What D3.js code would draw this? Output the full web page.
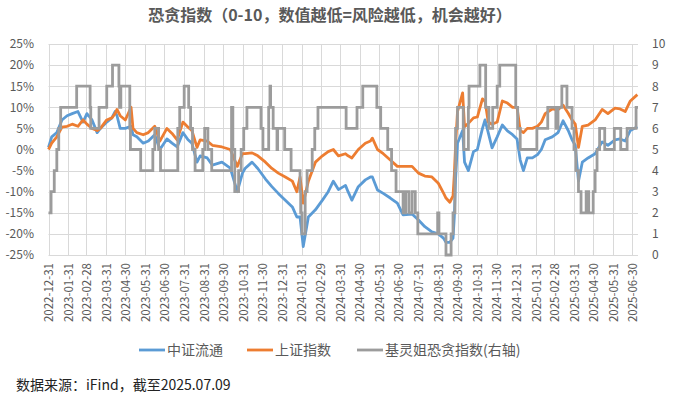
<!DOCTYPE html>
<meta charset="utf-8">
<body style="margin:0;background:#fff">
<svg width="679" height="399"></svg>
<script src="https://d3js.org/d3.v7.min.js"></script>
<script>
  var title = '恐贪指数（0-10，数值越低=风险越低，机会越好）'
  var source = '数据来源：iFind，截至2025.07.09'
  var seriesNames = ['中证流通', '上证指数', '基灵姐恐贪指数(右轴)']

  var monthEnds = ['2022-12-31', '2023-01-31', '2023-02-28', '2023-03-31', '2023-04-30', '2023-05-31',
    '2023-06-30', '2023-07-31', '2023-08-31', '2023-09-30', '2023-10-31', '2023-11-30', '2023-12-31',
    '2024-01-31', '2024-02-29', '2024-03-31', '2024-04-30', '2024-05-31', '2024-06-30', '2024-07-31',
    '2024-08-31', '2024-09-30', '2024-10-31', '2024-11-30', '2024-12-31', '2025-01-31', '2025-02-28',
    '2025-03-31', '2025-04-30', '2025-05-31', '2025-06-30']
  var leftTicks = [-25, -20, -15, -10, -5, 0, 5, 10, 15, 20, 25]
  var rightTicks = [0, 1, 2, 3, 4, 5, 6, 7, 8, 9, 10]

  // 中证流通 / 上证指数 cumulative change (%)
  var dates = ['2022-12-31', '2023-01-05', '2023-01-13', '2023-01-21', '2023-01-29', '2023-02-06', '2023-02-15',
    '2023-02-23', '2023-03-01', '2023-03-09', '2023-03-17', '2023-03-22', '2023-04-01', '2023-04-09',
    '2023-04-14', '2023-04-17', '2023-04-22', '2023-04-30', '2023-05-09', '2023-05-12', '2023-05-18',
    '2023-05-28', '2023-06-05', '2023-06-15', '2023-06-23', '2023-07-04', '2023-07-12', '2023-07-20',
    '2023-07-29', '2023-08-06', '2023-08-12', '2023-08-20', '2023-08-25', '2023-09-05', '2023-09-13',
    '2023-09-28', '2023-10-11', '2023-10-22', '2023-10-30', '2023-11-03', '2023-11-14', '2023-11-23',
    '2023-12-05', '2023-12-15', '2023-12-25', '2024-01-05', '2024-01-16', '2024-01-23', '2024-01-28',
    '2024-02-02', '2024-02-10', '2024-02-21', '2024-03-03', '2024-03-12', '2024-03-20', '2024-03-28',
    '2024-04-08', '2024-04-12', '2024-04-18', '2024-04-28', '2024-05-09', '2024-05-17', '2024-05-20',
    '2024-05-28', '2024-06-06', '2024-06-17', '2024-06-28', '2024-07-07', '2024-07-21', '2024-07-31',
    '2024-08-10', '2024-08-21', '2024-08-31', '2024-09-08', '2024-09-12', '2024-09-18', '2024-09-23',
    '2024-09-25', '2024-09-27', '2024-09-30', '2024-10-08', '2024-10-11', '2024-10-17', '2024-10-25',
    '2024-10-31', '2024-11-08', '2024-11-12', '2024-11-17', '2024-11-23', '2024-12-01', '2024-12-09',
    '2024-12-17', '2024-12-25', '2025-01-01', '2025-01-06', '2025-01-11', '2025-01-17', '2025-01-25',
    '2025-02-02', '2025-02-08', '2025-02-14', '2025-02-25', '2025-03-06', '2025-03-14', '2025-03-22',
    '2025-03-28', '2025-04-02', '2025-04-07', '2025-04-13', '2025-04-22', '2025-05-03', '2025-05-14',
    '2025-05-23', '2025-06-03', '2025-06-11', '2025-06-19', '2025-06-27', '2025-07-08']
  var zzlt = [0.5, 3, 4, 7, 8, 8.5, 9, 6.5, 8.5, 7, 4, 5, 6.5, 7.5,
    9, 8, 5, 5, 5.5, 3.5, 3,
    1.5, 2, 3.5, 0, 2.5, 1.5, 0.6,
    4, 2.3, 1.5, -3, -1.5, -2, -3.7,
    -3, -4.4, -10, -5.6, -4.5, -3, -4.5,
    -7, -8.8, -10.4, -12, -13.6, -16, -16,
    -23, -16, -14.3, -12, -10, -7.5, -9.5,
    -8.5, -10, -12, -8.8, -7.2, -6.5, -6.5,
    -9.6, -10.4, -11.5, -12.7, -15.5, -15.3, -16.7,
    -18.3, -19.5, -20, -21, -22, -22, -21,
    -16, -7, 1.5, 4.5, -3, -5, -0.5,
    0, 5, 7, 4, 0.4, 3, 5.8,
    4.4, 3.5, 2.5, -2.5, -5, -2, -2,
    -1.2, 0, 2.3, 3, 4, 6.8, 4.5,
    2.3, 1, -7.5, -3, -2, -1, 1.8,
    1, 2.3, 2.5, 2, 4.5, 5.4]
  var szzs = [0, 1.5, 3, 5.3, 5.5, 6, 5.5, 7, 6, 5, 4.5, 5, 7, 7.5,
    8.5, 9.5, 8, 7, 10, 5, 4,
    3.5, 4, 5.5, 2, 5, 3.8, 2.3,
    6.5, 5.3, 4.5, 0.5, 2.3, 2, 1,
    0.6, 0, -4, -1, -1, -0.8, -1.5,
    -3, -4.5, -5.6, -6.5, -7.5, -10, -6.5,
    -12.7, -7.5, -3, -1.5, -0.5, 0, -1.5,
    -1, -1.5, -2, 0, 1.5, 2, 2.7,
    0, -1, -2.5, -4, -4, -4, -5.6,
    -6.3, -6.5, -8, -10.3, -11.5, -12.5, -11,
    -6, 1, 9, 13.4, 5.4, 6.2, 7.5,
    7.7, 12, 11.5, 6.5, 6, 6.5, 11.5,
    11, 10, 10, 4.5, 4, 5, 5,
    5.5, 6.5, 8.5, 9.6, 9.4, 10.5, 8.6,
    7, 6, 0.5, 5.5, 5.8, 7, 9.5,
    8.5, 9.8, 9.6, 9, 11.5, 13]

  // 恐贪指数: date each level starts, level value (0-10)
  var fgDates = ['2022-12-31', '2023-01-04', '2023-01-09', '2023-01-13', '2023-01-16', '2023-01-19', '2023-02-13',
    '2023-03-06', '2023-03-07', '2023-03-20', '2023-04-01', '2023-04-10', '2023-04-20', '2023-04-21',
    '2023-04-23', '2023-05-07', '2023-05-08', '2023-05-24', '2023-06-12', '2023-06-15', '2023-06-21',
    '2023-06-24', '2023-07-21', '2023-07-24', '2023-07-31', '2023-08-07', '2023-08-10', '2023-08-13',
    '2023-08-17', '2023-08-29', '2023-09-01', '2023-09-06', '2023-09-12', '2023-10-13', '2023-10-15',
    '2023-10-18', '2023-10-24', '2023-10-28', '2023-11-01', '2023-11-06', '2023-11-28', '2023-12-01',
    '2023-12-10', '2023-12-12', '2023-12-13', '2023-12-17', '2023-12-23', '2023-12-24', '2024-01-04',
    '2024-01-14', '2024-01-28', '2024-01-29', '2024-01-31', '2024-02-05', '2024-02-08', '2024-02-16',
    '2024-02-20', '2024-02-25', '2024-04-09', '2024-04-26', '2024-05-05', '2024-05-27', '2024-06-02',
    '2024-06-13', '2024-06-19', '2024-06-26', '2024-07-07', '2024-07-11', '2024-07-16', '2024-07-21',
    '2024-07-26', '2024-07-30', '2024-08-30', '2024-09-01', '2024-09-12', '2024-09-20', '2024-09-23',
    '2024-09-26', '2024-09-27', '2024-09-30', '2024-10-09', '2024-10-10', '2024-10-17', '2024-10-18',
    '2024-11-04', '2024-11-13', '2024-11-18', '2024-11-24', '2024-12-01', '2024-12-05', '2024-12-30',
    '2025-01-02', '2025-01-06', '2025-02-01', '2025-02-18', '2025-03-03', '2025-03-06', '2025-03-12',
    '2025-03-20', '2025-03-28', '2025-03-31', '2025-04-03', '2025-04-07', '2025-04-11', '2025-04-19',
    '2025-04-23', '2025-04-30', '2025-05-03', '2025-05-06', '2025-05-10', '2025-05-18', '2025-06-02',
    '2025-06-12', '2025-06-22', '2025-07-06', '2025-07-09']
  var fgValues = [2, 3, 4, 5, 6, 7, 8,
    7, 6, 7, 8, 9, 8, 7,
    8, 6, 5, 4, 5, 6, 5,
    4, 6, 7, 8, 7, 6, 5,
    4, 5, 6, 5, 4, 7, 5,
    3, 4, 5, 6, 7, 6, 5,
    7, 8, 7, 6, 5, 6, 5,
    4, 3, 2, 1, 3, 4, 5,
    6, 7, 6, 7, 8, 7, 6,
    5, 4, 3, 2, 3, 2, 3,
    2, 1, 2, 1, 0, 1, 2,
    4, 6, 7, 6, 5, 7, 8,
    9, 7, 6, 7, 8, 9, 7,
    6, 5, 6, 7, 6, 7, 8,
    7, 6, 5, 4, 3, 2, 3,
    2, 3, 4, 5, 6, 5, 6,
    5, 6, 7, 7]

  var parse = d3.timeParse('%Y-%m-%d')
  var svg = d3.select('svg')
  var font = '"Noto Sans CJK SC", "Microsoft YaHei", sans-serif'
  var textColor = '#595959'
  var gridColor = '#d9d9d9'
  var colors = ['#5b9bd5', '#ed7d31', '#9c9c9c']

  var x = d3.scaleTime()
    .domain([parse('2022-12-31'), parse('2025-07-09')])
    .range([48.5, 638])
  var yL = d3.scaleLinear().domain([-25, 25]).range([255, 44])
  var yR = d3.scaleLinear().domain([0, 10]).range([255, 44])

  svg.append('rect').attr('width', 679).attr('height', 399).attr('fill', '#fff')

  // grid
  var grid = svg.append('g').attr('stroke', gridColor).attr('stroke-width', 1)
  grid.selectAll('line.h').data(leftTicks).enter().append('line')
    .attr('x1', 48.5).attr('x2', 638)
    .attr('y1', function(d) { return Math.round(yL(d)) + 0.5 })
    .attr('y2', function(d) { return Math.round(yL(d)) + 0.5 })
  grid.selectAll('line.v').data(monthEnds).enter().append('line')
    .attr('x1', function(d) { return Math.round(x(parse(d))) + 0.5 })
    .attr('x2', function(d) { return Math.round(x(parse(d))) + 0.5 })
    .attr('y1', 44).attr('y2', 255)

  // axes
  var leftAxis = svg.append('g')
    .attr('transform', 'translate(48,0)')
    .call(d3.axisLeft(yL).tickValues(leftTicks).tickSize(0).tickPadding(14)
      .tickFormat(function(d) { return d + '%' }))
  var rightAxis = svg.append('g')
    .attr('transform', 'translate(638,0)')
    .call(d3.axisRight(yR).tickValues(rightTicks).tickSize(0).tickPadding(14))
  var bottomAxis = svg.append('g')
    .attr('transform', 'translate(0,255)')
    .call(d3.axisBottom(x).tickValues(monthEnds.map(parse)).tickSize(0)
      .tickFormat(d3.timeFormat('%Y-%m-%d')))
  bottomAxis.selectAll('text')
    .attr('transform', 'rotate(-90)')
    .attr('text-anchor', 'end')
    .attr('x', -8).attr('y', 0).attr('dy', '0.35em')
  ;[leftAxis, rightAxis, bottomAxis].forEach(function(a) {
    a.select('.domain').remove()
    a.selectAll('text').attr('fill', textColor).attr('font-family', font).attr('font-size', 12)
  })
  bottomAxis.selectAll('text').attr('font-size', 11.5)

  // lines
  var lineL = function(vals) {
    return d3.line()
      .x(function(d, i) { return x(parse(dates[i])) })
      .y(function(d) { return yL(d) })(vals)
  }
  svg.append('path').attr('d', lineL(zzlt))
    .attr('fill', 'none').attr('stroke', colors[0]).attr('stroke-width', 2.8).attr('stroke-linejoin', 'round')
  svg.append('path').attr('d', lineL(szzs))
    .attr('fill', 'none').attr('stroke', colors[1]).attr('stroke-width', 2.8).attr('stroke-linejoin', 'round')
  var fgLine = d3.line()
    .curve(d3.curveStepAfter)
    .x(function(d, i) { return x(parse(fgDates[i])) })
    .y(function(d) { return yR(d) })
  svg.append('path').attr('d', fgLine(fgValues))
    .attr('fill', 'none').attr('stroke', colors[2]).attr('stroke-width', 2.8)

  // title
  svg.append('text').text(title)
    .attr('x', 330).attr('y', 21).attr('text-anchor', 'middle')
    .attr('font-family', font).attr('font-size', 16).attr('font-weight', 'bold').attr('fill', textColor)

  // legend
  var legendX = [139, 247, 357]
  var legend = svg.append('g').selectAll('g').data(seriesNames).enter().append('g')
    .attr('transform', function(d, i) { return 'translate(' + legendX[i] + ',350)' })
  legend.append('line').attr('x1', 0).attr('x2', 26).attr('y1', 0).attr('y2', 0)
    .attr('stroke', function(d, i) { return colors[i] }).attr('stroke-width', 2.8)
  legend.append('text').text(function(d) { return d })
    .attr('x', 28).attr('dy', '0.35em')
    .attr('font-family', font).attr('font-size', 14).attr('fill', textColor)

  svg.append('text').text(source)
    .attr('x', 16).attr('y', 385).attr('dy', '0.35em')
    .attr('font-family', font).attr('font-size', 14).attr('fill', '#222')
</script>
